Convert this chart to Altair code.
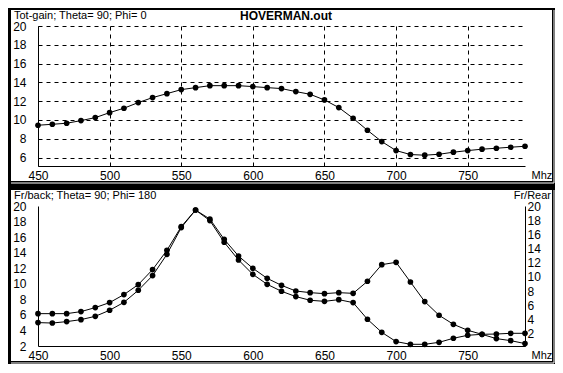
import altair as alt
import pandas as pd

# ---------------- data ----------------
freq = [450, 460, 470, 480, 490, 500, 510, 520, 530, 540,
        550, 560, 570, 580, 590, 600, 610, 620, 630, 640,
        650, 660, 670, 680, 690, 700, 710, 720, 730, 740,
        750, 760, 770, 780, 790]

gain = [9.44, 9.54, 9.65, 9.93, 10.25, 10.78, 11.25, 11.85, 12.38, 12.80,
        13.23, 13.44, 13.65, 13.65, 13.65, 13.55, 13.44, 13.34, 13.02, 12.73,
        12.13, 11.32, 10.18, 8.90, 7.70, 6.74, 6.32, 6.25, 6.35, 6.57,
        6.74, 6.89, 6.99, 7.10, 7.20]

fr_back = [6.16, 6.16, 6.16, 6.42, 6.94, 7.58, 8.61, 9.89, 11.82, 14.30,
           17.35, 19.48, 18.32, 15.71, 13.57, 11.99, 10.70, 9.80, 9.07, 8.86,
           8.73, 8.86, 8.77, 10.32, 12.46, 12.76, 10.23, 7.71, 5.95, 4.79,
           4.02, 3.50, 2.95, 2.69, 2.31]

fr_rear = [3.55, 3.49, 3.69, 3.97, 4.44, 5.29, 6.41, 8.11, 10.18, 13.18,
           16.95, 19.43, 17.94, 14.88, 12.38, 10.36, 8.95, 7.97, 7.22, 6.70,
           6.55, 6.79, 6.37, 4.02, 2.18, 0.87, 0.49, 0.49, 0.77, 1.34,
           1.76, 1.90, 1.94, 2.04, 2.04]

file_title = "HOVERMAN.out"
top_title = "Tot-gain; Theta= 90; Phi= 0"
bottom_title = "Fr/back; Theta= 90; Phi= 180"
right_title = "Fr/Rear"
x_unit = "Mhz"
x_ticks = [450, 500, 550, 600, 650, 700, 750]
y_ticks_top = [6, 8, 10, 12, 14, 16, 18, 20]
y_ticks_bottom = [2, 4, 6, 8, 10, 12, 14, 16, 18, 20]
x_domain = [450, 790]
top_domain = [5.1, 20]
left_domain = [2, 20]
right_domain = [0.25, 20]

# ---------------- styling ----------------
FONT = "Liberation Sans"
W, H = 487, 140

df_top = pd.DataFrame({"freq": freq, "gain": gain})
df_bot = pd.DataFrame({"freq": freq, "fr_back": fr_back, "fr_rear": fr_rear})
one = alt.Data(values=[{"k": 1}])


def x_axis(grid):
    return alt.Axis(values=x_ticks, grid=grid, gridColor="black", gridDash=[4, 4],
                    gridWidth=1, gridOpacity=1, domainColor="black", domainWidth=1,
                    ticks=False, tickSize=0, labelPadding=4, labelFont=FONT,
                    labelFontSize=12, labelColor="black", labelFlush=False,
                    labelOverlap=False, title=x_unit, titleFont=FONT, titleFontSize=11,
                    titleFontWeight="normal", titleColor="black", titleX=W + 6,
                    titleY=9, titleAlign="left", titleBaseline="middle", titleAngle=0,
                    zindex=1)


def y_axis(values, grid, orient="left"):
    return alt.Axis(orient=orient, values=values, grid=grid, gridColor="black",
                    gridDash=[4, 4], gridWidth=1, gridOpacity=1, domainColor="black",
                    domainWidth=1, ticks=False, tickSize=0,
                    labelPadding=12 if orient == "left" else 2, labelFont=FONT,
                    labelFontSize=12, labelColor="black", labelFlush=False,
                    labelOverlap=False, title=None, zindex=1)


X = alt.X("freq:Q", scale=alt.Scale(domain=x_domain, nice=False, zero=False))


def panel_decor():
    frame = alt.Chart(one).mark_rect(color="black").encode(
        x=alt.value(-30), x2=alt.value(517), y=alt.value(-18), y2=alt.value(158))
    bg = alt.Chart(one).mark_rect(color="white").encode(
        x=alt.value(-27), x2=alt.value(514), y=alt.value(-16), y2=alt.value(155))
    ev = alt.Chart(one).mark_rule(color="white", strokeWidth=1).encode(
        x=alt.value(516), y=alt.value(-16), y2=alt.value(157))
    eh = alt.Chart(one).mark_rule(color="white", strokeWidth=1).encode(
        x=alt.value(-27), x2=alt.value(516), y=alt.value(157))
    return [frame, bg, ev, eh]


def label(text, x, align="left", bold=False, size=11):
    return alt.Chart(one).mark_text(
        text=text, align=align, baseline="middle", font=FONT, fontSize=size,
        fontWeight="bold" if bold else "normal", color="black"
    ).encode(x=alt.value(x), y=alt.value(-10))


# ---------------- top panel ----------------
y_top = alt.Y("gain:Q", scale=alt.Scale(domain=top_domain, nice=False, zero=False),
              axis=y_axis(y_ticks_top, True))
top_line = alt.Chart(df_top).mark_line(color="black", strokeWidth=1).encode(
    x=X.axis(x_axis(True)), y=y_top)
top_pts = alt.Chart(df_top).mark_circle(size=32, color="black", opacity=1).encode(
    x=X.axis(x_axis(True)), y=y_top)

top = alt.layer(*panel_decor(), top_line, top_pts,
                label(top_title, -24), label(file_title, 248, "center", True, 12)
                ).properties(width=W, height=H)

# ---------------- bottom panel ----------------
y_left = alt.Y("fr_back:Q", scale=alt.Scale(domain=left_domain, nice=False, zero=False),
               axis=y_axis(y_ticks_bottom, False, "left"))
y_right = alt.Y("fr_rear:Q", scale=alt.Scale(domain=right_domain, nice=False, zero=False),
                axis=y_axis(y_ticks_bottom, False, "right"))

left_layer = alt.layer(
    alt.Chart(df_bot).mark_line(color="black", strokeWidth=1).encode(
        x=X.axis(x_axis(False)), y=y_left),
    alt.Chart(df_bot).mark_circle(size=32, color="black", opacity=1).encode(
        x=X.axis(x_axis(False)), y=y_left),
)
right_layer = alt.layer(
    alt.Chart(df_bot).mark_line(color="black", strokeWidth=1).encode(
        x=X.axis(x_axis(False)), y=y_right),
    alt.Chart(df_bot).mark_circle(size=32, color="black", opacity=1).encode(
        x=X.axis(x_axis(False)), y=y_right),
)

bottom = alt.layer(*panel_decor(), left_layer, right_layer,
                   label(bottom_title, -24), label(right_title, 513, "right")
                   ).resolve_scale(y="independent").properties(width=W, height=H)

chart = alt.vconcat(top, bottom, spacing=4).properties(
    background="black", padding=0
).configure_view(stroke=None)

chart.save("out.html", embed_options={"renderer": "svg", "actions": False})
